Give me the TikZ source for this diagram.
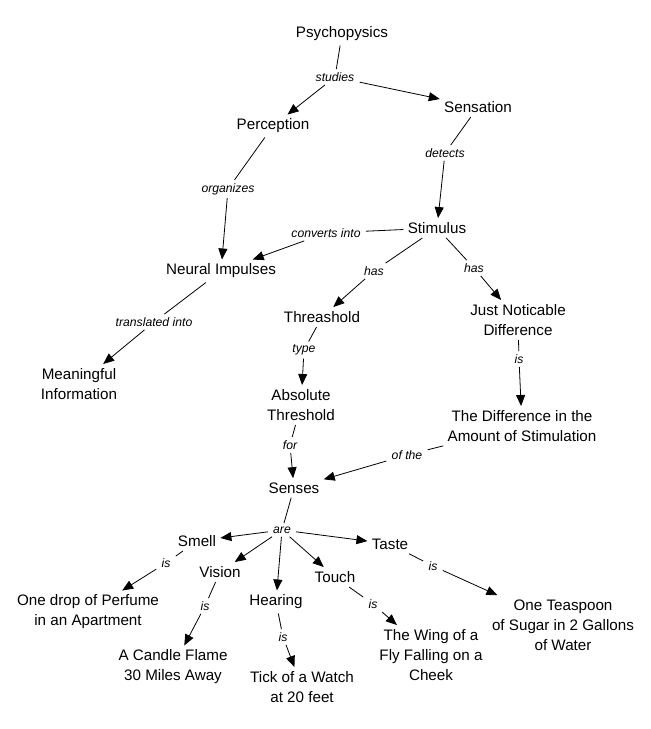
\documentclass[tikz,border=0pt]{standalone}
\usepackage{fontspec}
\setmainfont{Liberation Sans}
\usetikzlibrary{arrows.meta}

\begin{document}
\begin{tikzpicture}[x=1pt,y=-1pt,>={Triangle[length=11pt,width=9pt]},line width=0.8pt,
  concept/.style={font=\fontsize{15.2}{20}\selectfont,align=center,inner sep=4pt},
  link/.style={font=\fontsize{12.2}{14}\selectfont\itshape,inner xsep=5pt,inner ysep=3pt}]

\useasboundingbox (0,0) rectangle (651,729);

% concepts
\node[concept] (psy)      at (342,34)  {Psychopysics};
\node[concept] (perc)     at (273,126) {Perception};
\node[concept] (sens)     at (478,107) {Sensation};
\node[concept] (stim)     at (437,228) {Stimulus};
\node[concept] (neural)   at (221,271) {Neural Impulses};
\node[concept] (thresh)   at (322,317) {Threashold};
\node[concept] (jnd)      at (518,320) {Just Noticable\\Difference};
\node[concept] (meaning)  at (79,384)  {Meaningful\\Information};
\node[concept] (abs)      at (301,405) {Absolute\\Threshold};
\node[concept] (diff)     at (522,426) {The Difference in the\\Amount of Stimulation};
\node[concept] (senses)   at (294,488) {Senses};
\node[concept] (smell)    at (197,541) {Smell};
\node[concept] (taste)    at (390,544) {Taste};
\node[concept] (vision)   at (220,572) {Vision};
\node[concept] (touch)    at (335,577) {Touch};
\node[concept] (hearing)  at (276,602) {Hearing};
\node[concept] (perfume)  at (88,612)  {One drop of Perfume\\in an Apartment};
\node[concept] (candle)   at (173,667) {A Candle Flame\\30 Miles Away};
\node[concept] (tick)     at (302,687) {Tick of a Watch\\at 20 feet};
\node[concept] (wing)     at (431,655) {The Wing of a\\Fly Falling on a\\Cheek};
\node[concept] (teaspoon) at (563,625) {One Teaspoon\\of Sugar in 2 Gallons\\of Water};

% linking phrases
\node[link] (studies)    at (335,77)  {studies};
\node[link] (detects)    at (445,153) {detects};
\node[link] (organizes)  at (228,189) {organizes};
\node[link] (converts)   at (326,233) {converts into};
\node[link] (hasL)       at (374,271) {has};
\node[link] (hasR)       at (474,268) {has};
\node[link] (translated) at (154,322) {translated into};
\node[link] (type)       at (304,350) {type};
\node[link] (isJ)        at (519,359) {is};
\node[link] (for)        at (290,445) {for};
\node[link] (ofthe)      at (407,455) {of the};
\node[link] (are)        at (282,530) {are};
\node[link] (isS)        at (166,563) {is};
\node[link] (isV)        at (205,606) {is};
\node[link] (isH)        at (283,637) {is};
\node[link] (isT)        at (373,604) {is};
\node[link] (isTa)       at (433,566) {is};

\path (psy) edge (studies)
        (studies) edge[->] (perc)
                  edge[->] (sens)
      (sens) edge (detects)
        (detects) edge[->] (stim)
      (perc) edge (organizes)
        (organizes) edge[->] (neural)
      (stim) edge (converts)
             edge (hasL)
             edge (hasR)
        (converts) edge[->] (neural)
        (hasL) edge[->] (thresh)
        (hasR) edge[->] (jnd)
      (neural) edge (translated)
        (translated) edge[->] (meaning)
      (thresh) edge (type)
        (type) edge[->] (abs)
      (jnd) edge (isJ)
        (isJ) edge[->] (diff)
      (abs) edge (for)
        (for) edge[->] (senses)
      (diff) edge (ofthe)
        (ofthe) edge[->] (senses)
      (senses) edge (are)
        (are) edge[->] (smell)
              edge[->] (vision)
              edge[->] (hearing)
              edge[->] (touch)
              edge[->] (taste)
      (smell) edge (isS)
        (isS) edge[->] (perfume)
      (vision) edge (isV)
        (isV) edge[->] (candle)
      (hearing) edge (isH)
        (isH) edge[->] (tick)
      (touch) edge (isT)
        (isT) edge[->] (wing)
      (taste) edge (isTa)
        (isTa) edge[->] (teaspoon);

\end{tikzpicture}
\end{document}
